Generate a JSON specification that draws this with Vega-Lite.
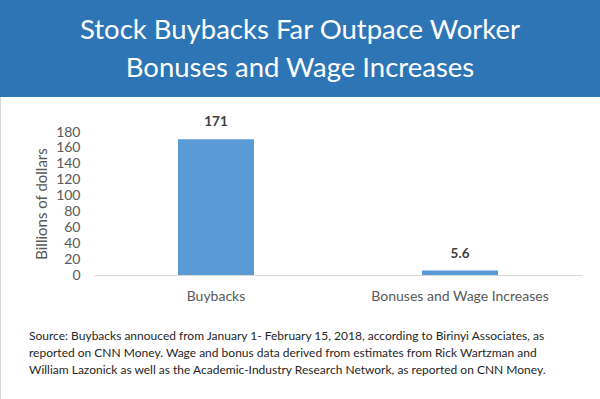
{
  "$schema": "https://vega.github.io/schema/vega-lite/v6.json",
  "width": 600,
  "height": 399,
  "autosize": {"type": "none"},
  "padding": 0,
  "background": "#ffffff",
  "config": {"view": {"stroke": "#D9D9D9", "strokeWidth": 1}, "font": "Lato"},
  "resolve": {"scale": {"x": "independent", "y": "independent"}},
  "layer": [
    {
      "data": {"values": [{"panel": "banner"}]},
      "mark": {"type": "rect", "color": "#2E75B6"},
      "encoding": {
        "y": {"datum": 0, "type": "quantitative", "scale": {"domain": [0, 1], "range": [0, 97]}, "axis": null},
        "y2": {"datum": 1}
      }
    },
    {
      "data": {"values": [
        {"line": 1, "text": "Stock Buybacks Far Outpace Worker"},
        {"line": 2, "text": "Bonuses and Wage Increases"}
      ]},
      "mark": {"type": "text", "color": "#ffffff", "fontSize": 27.5, "baseline": "middle", "align": "center"},
      "encoding": {
        "y": {"field": "line", "type": "quantitative", "scale": {"domain": [1, 2], "range": [31, 69]}, "axis": null},
        "text": {"field": "text"}
      }
    },
    {
      "data": {"values": [
        {"category": "Buybacks", "value": 171, "label": "171"},
        {"category": "Bonuses and Wage Increases", "value": 5.6, "label": "5.6"}
      ]},
      "encoding": {
        "x": {
          "field": "category", "type": "nominal", "sort": null,
          "scale": {"range": [94, 582], "paddingInner": 0.6885, "paddingOuter": 0.344},
          "axis": {"title": null, "offset": -124, "ticks": false, "tickSize": 0, "domainColor": "#D9D9D9", "labelAngle": 0, "labelFontSize": 14, "labelColor": "#595959", "labelPadding": 14, "grid": false}
        },
        "y": {
          "field": "value", "type": "quantitative",
          "scale": {"domain": [0, 180], "range": [275, 132], "nice": false},
          "axis": {"title": "Billions of dollars", "offset": -84, "ticks": false, "tickSize": 0, "domain": false, "grid": false, "values": [0, 20, 40, 60, 80, 100, 120, 140, 160, 180], "labelFontSize": 14, "labelColor": "#595959", "labelPadding": 4, "titleFontSize": 15, "titleFontWeight": "normal", "titleColor": "#595959", "titlePadding": 6}
        }
      },
      "layer": [
        {"mark": {"type": "bar", "color": "#5B9BD5"}},
        {"mark": {"type": "text", "fontWeight": "bold", "fontSize": 13.5, "color": "#404040", "baseline": "bottom", "dy": -10}, "encoding": {"text": {"field": "label"}}}
      ]
    },
    {
      "data": {"values": [
        {"line": 1, "text": "Source: Buybacks annouced from January 1- February 15, 2018, according to Birinyi Associates, as"},
        {"line": 2, "text": "reported on CNN Money. Wage and bonus data derived from estimates from Rick Wartzman and"},
        {"line": 3, "text": "William Lazonick as well as the Academic-Industry Research Network, as reported on CNN Money."}
      ]},
      "mark": {"type": "text", "align": "left", "fontSize": 12, "color": "#262626", "baseline": "middle"},
      "encoding": {
        "x": {"datum": 0, "type": "quantitative", "scale": {"domain": [0, 1], "range": [29, 570]}, "axis": null},
        "y": {"field": "line", "type": "quantitative", "scale": {"domain": [1, 3], "range": [336, 370]}, "axis": null},
        "text": {"field": "text"}
      }
    }
  ]
}
